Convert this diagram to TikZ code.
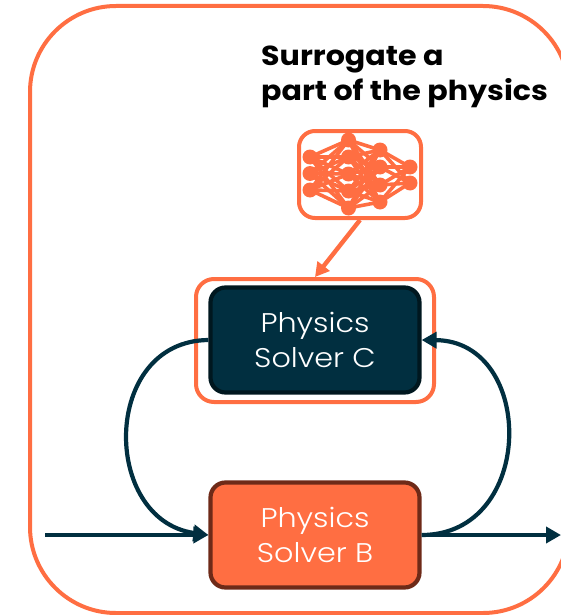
\documentclass[tikz,border=0pt]{standalone}
\usepackage{fontspec}
\setmainfont{Poppins}
\newfontfamily\titlefont[FakeStretch=1.095]{Poppins}
\newfontfamily\solverfont[FakeStretch=1.12,UprightFont={* Light}]{Poppins}
\usetikzlibrary{arrows.meta}
\definecolor{orng}{HTML}{FF6E42}
\definecolor{navy}{HTML}{012F40}
\definecolor{navyedge}{HTML}{00171F}
\definecolor{brownedge}{HTML}{6E2A18}
\tikzset{
 frame/.style={draw=orng,line width=4pt,rounded corners=#1,fill=none,inner sep=0pt},
 solver/.style={rounded corners=15pt,line width=4.2pt,minimum width=209pt,minimum height=105pt,inner sep=0pt,align=center,text=white,font=\solverfont\fontsize{27}{35}\selectfont},
 flow/.style={draw=navy,line width=4.2pt,-{Triangle[length=15pt,width=16pt]}},
 surr/.style={draw=orng,line width=4.4pt,-{Triangle[length=14pt,width=15pt]}},
 neuron/.style={circle,fill=orng,minimum size=15pt,inner sep=0pt},
 syn/.style={draw=orng,line width=3.6pt},
 heading/.style={anchor=base west,font=\titlefont\fontsize{27.5}{27.5}\selectfont\bfseries,inner sep=0pt},
}
\begin{document}
\begin{tikzpicture}[x=1pt,y=-1pt]
\useasboundingbox (0,0) rectangle (561,615);
\clip (0,0) rectangle (561,615);
\node[frame=86pt,minimum width=539pt,minimum height=607pt] (outer) at (299.5,309.5) {};
\node[heading] (t1) at (261,66) {Surrogate a};
\node[heading] (t2) at (261,101) {part of the physics};
\node[frame=16pt,minimum width=122pt,minimum height=87pt] (net) at (360,174.5) {};
\foreach \n/\y in {1/157,2/173.5,3/190} \node[neuron] (a\n) at (310,\y) {};
\foreach \n/\y in {1/140,2/157,3/174,4/191,5/208} \node[neuron] (b\n) at (348.5,\y) {};
\foreach \n/\y in {1/150,2/167,3/185,4/202} \node[neuron] (c\n) at (380,\y) {};
\foreach \n/\y in {1/167,2/183} \node[neuron] (d\n) at (410,\y) {};
\foreach \i in {1,2,3} \foreach \j in {1,...,5} \draw[syn] (a\i.center) -- (b\j.center);
\foreach \i in {1,...,5} \foreach \j in {1,...,4} \draw[syn] (b\i.center) -- (c\j.center);
\foreach \i in {1,...,4} \foreach \j in {1,2} \draw[syn] (c\i.center) -- (d\j.center);
\node[frame=18pt,minimum width=238pt,minimum height=123pt] (halo) at (315,340.5) {};
\node[solver,draw=navyedge,fill=navy] (C) at (315,340) {Physics\\Solver C};
\node[solver,draw=brownedge,fill=orng] (B) at (315,535) {Physics\\Solver B};
\coordinate (in) at (45,535);
\coordinate (out) at (561,535);
\draw[surr] (net.south) -- (halo.north);
\draw[flow] (C.west) .. controls (101,341) and (101,520) .. (B.west);
\draw[flow] (B.east) .. controls (536,535) and (536,341) .. (C.east);
\draw[flow] (in) -- (B.west);
\draw[flow] (B.east) -- (out);
\end{tikzpicture}
\end{document}
